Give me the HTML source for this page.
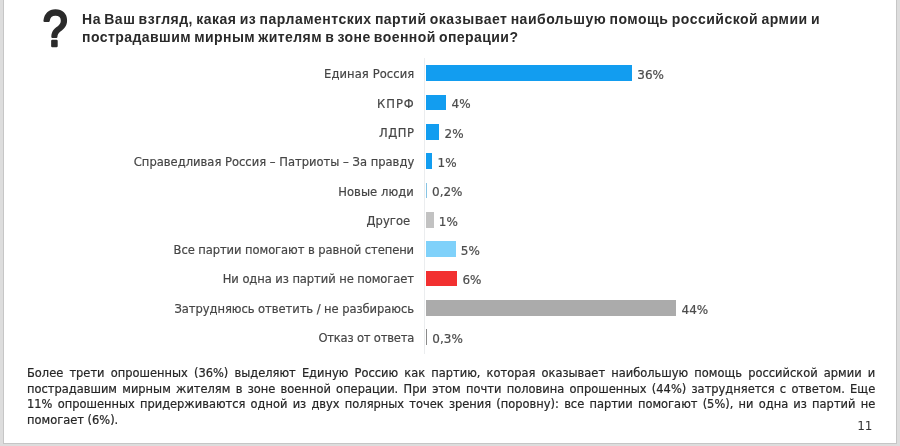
<!DOCTYPE html>
<html lang="ru"><head><meta charset="utf-8"><title>Опрос</title>
<style>
html,body{margin:0;padding:0;background:#dddddd}
body{width:900px;height:446px;overflow:hidden;background:#dddddd;position:relative;font-family:"Liberation Sans",sans-serif}
.sheet{position:absolute;left:4px;top:0;width:892px;height:443px;background:#fff;box-shadow:0 0 0 1px #c6c6c6}
.q{position:absolute;left:30px;top:0;width:60px;height:60px;overflow:visible}
.q text{font:400 48px "Liberation Sans",sans-serif;fill:#2b2b2b;stroke:#2b2b2b;stroke-width:2.5px;stroke-linejoin:round;stroke-linecap:round}
.title{position:absolute;left:82.1px;top:10px;word-spacing:-1.1px;font:700 14px/18px "Liberation Sans",sans-serif;color:#2a2a2a;letter-spacing:.495px;white-space:nowrap}
.axis{position:absolute;left:424.4px;top:58px;width:1px;height:296px;background:#ebedef}
.row{position:absolute;left:0;width:900px;height:15.8px}
.lab{position:absolute;right:486.1px;top:-0.2px;height:15.8px;line-height:19.4px;font:12.2px/19.4px "DejaVu Sans","Liberation Sans",sans-serif;color:#454545;transform:scaleX(.9467);transform-origin:100% 50%;-webkit-text-stroke:.2px #454545;white-space:nowrap}
.bar{position:absolute;left:425.5px;top:0;height:15.8px}
.val{position:absolute;top:0.8px;line-height:19.0px;font:12px/19.0px "DejaVu Sans","Liberation Sans",sans-serif;color:#4c4c4c;-webkit-text-stroke:.2px #4c4c4c;white-space:nowrap}
.para{position:absolute;left:27.1px;top:366.2px;width:888.9px;font:12px/15.45px "DejaVu Sans","Liberation Sans",sans-serif;color:#262626;-webkit-text-stroke:.22px #262626;transform:scaleX(.9542);transform-origin:0 0}
.para div{text-align:justify;text-align-last:justify;white-space:nowrap;height:15.45px}
.para div.last{text-align:left;text-align-last:left}
.pn{position:absolute;left:857.2px;top:419px;font:12px/15px "DejaVu Sans","Liberation Sans",sans-serif;color:#333}
</style></head><body>
<div class="sheet"></div>
<svg class="q" viewBox="0 0 60 60"><text x="0" y="0" transform="translate(12.7 45.5) scale(.93 1.025)">?</text></svg>
<div class="title">На Ваш взгляд, какая из парламентских партий оказывает наибольшую помощь российской армии и<br><span style="letter-spacing:.435px">пострадавшим мирным жителям в зоне военной операции?</span></div>
<div class="axis"></div>
<div class="row" style="top:65.4px"><span class="lab" style="letter-spacing:0.085px;margin-right:-0.08px">Единая Россия</span><span class="bar" style="width:206.5px;background:#129df0"></span><span class="val" style="left:637.3px">36%</span></div>
<div class="row" style="top:94.7px"><span class="lab" style="letter-spacing:1.003px;margin-right:-0.95px">КПРФ</span><span class="bar" style="width:20.7px;background:#129df0"></span><span class="val" style="left:451.5px">4%</span></div>
<div class="row" style="top:124.0px"><span class="lab" style="letter-spacing:0.592px;margin-right:-0.56px">ЛДПР</span><span class="bar" style="width:13.8px;background:#129df0"></span><span class="val" style="left:444.6px">2%</span></div>
<div class="row" style="top:153.4px"><span class="lab" style="letter-spacing:0.000px;margin-right:0.00px">Справедливая Россия – Патриоты – За правду</span><span class="bar" style="width:6.7px;background:#129df0"></span><span class="val" style="left:437.5px">1%</span></div>
<div class="row" style="top:182.7px"><span class="lab" style="letter-spacing:0.053px;margin-right:-0.05px">Новые люди</span><span class="bar" style="width:1.2px;background:#86c4e4"></span><span class="val" style="left:432.0px">0,2%</span></div>
<div class="row" style="top:212.0px"><span class="lab" style="letter-spacing:0.053px;margin-right:3.35px">Другое</span><span class="bar" style="width:8.0px;background:#c2c2c2"></span><span class="val" style="left:438.8px">1%</span></div>
<div class="row" style="top:241.3px"><span class="lab" style="letter-spacing:-0.080px;margin-right:0.08px">Все партии помогают в равной степени</span><span class="bar" style="width:30.0px;background:#7fd1fa"></span><span class="val" style="left:460.8px">5%</span></div>
<div class="row" style="top:270.6px"><span class="lab" style="letter-spacing:-0.079px;margin-right:0.07px">Ни одна из партий не помогает</span><span class="bar" style="width:31.6px;background:#f23030"></span><span class="val" style="left:462.4px">6%</span></div>
<div class="row" style="top:300.0px"><span class="lab" style="letter-spacing:-0.063px;margin-right:0.06px">Затрудняюсь ответить / не разбираюсь</span><span class="bar" style="width:250.7px;background:#ababab"></span><span class="val" style="left:681.5px">44%</span></div>
<div class="row" style="top:329.3px"><span class="lab" style="letter-spacing:-0.201px;margin-right:0.19px">Отказ от ответа</span><span class="bar" style="width:1.5px;background:#8a8a8a"></span><span class="val" style="left:432.3px">0,3%</span></div>
<div class="para">
<div>Более трети опрошенных (36%) выделяют Единую Россию как партию, которая оказывает наибольшую помощь российской армии и</div>
<div>пострадавшим мирным жителям в зоне военной операции. При этом почти половина опрошенных (44%) затрудняется с ответом. Еще</div>
<div>11% опрошенных придерживаются одной из двух полярных точек зрения (поровну): все партии помогают (5%), ни одна из партий не</div>
<div class="last">помогает (6%).</div>
</div>
<div class="pn">11</div>
</body></html>
